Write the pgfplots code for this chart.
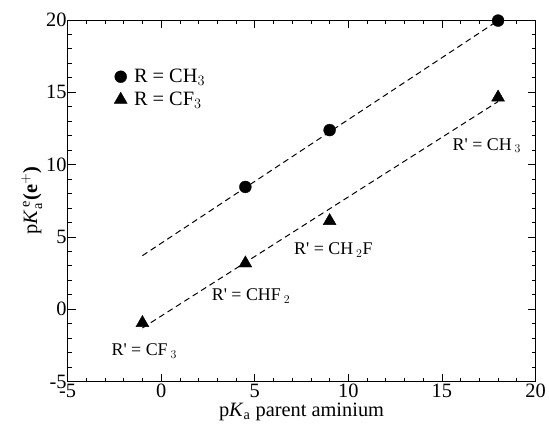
\documentclass[border=0pt]{standalone}
\usepackage{pgfplots}
\pgfplotsset{compat=1.18}
\usepackage{fontspec}
\setmainfont{Liberation Serif}
\newcommand{\ap}{\textquotesingle}
\begin{document}
\begin{tikzpicture}
\begin{axis}[
    scale only axis,
    width=471pt, height=364pt,
    xmin=-5, xmax=20, ymin=-5, ymax=20,
    xtick={-5,0,...,20}, ytick={-5,0,...,20},
    xticklabels={-5,0,5,10,15,20},
    yticklabels={-5,0,5,10,15,20},
    minor tick num=4,
    tick align=inside,
    major tick length=8pt, minor tick length=4pt,
    every tick/.style={black, line width=0.7pt},
    axis line style={line width=0.7pt},
    tick label style={font=\fontsize{20.5}{22}\selectfont},
    xticklabel style={yshift=1pt},
    yticklabel style={xshift=2.5pt},
    label style={font=\fontsize{20.5}{22}\selectfont},
    xlabel={p\textit{K}$_{\mathrm{a}}$ parent aminium},
    ylabel={p\textit{K}$_{\mathrm{a}}^{\,\mathrm{e}}$\textbf{(e}$^{\mathbf{+}}$\textbf{)}},
    xlabel style={yshift=2pt},
    ylabel style={yshift=-3pt},
    legend style={draw=none, fill=none, at={(0.093,0.875)}, anchor=north west,
        font=\fontsize{20.5}{22}\selectfont, row sep=4pt},
    legend cell align=left,
    legend image code/.code={\draw[#1] plot coordinates {(0.2cm,0cm)}; \path[draw=none] (0cm,0cm) -- (0.6cm,0cm);},
]
% fit lines
\addplot[black, dash pattern=on 6pt off 4pt, line width=1pt, forget plot] coordinates {(-1,3.7) (18,19.95)};
\addplot[black, dash pattern=on 6pt off 4pt, line width=1pt, forget plot] coordinates {(-1,-1.3) (18,14.35)};
% data
\addplot[only marks, mark=*, mark size=6pt, black] coordinates {
    (4.5,8.45) (9,12.38) (18,19.95)
};
\addlegendentry{R = CH$_3$}
\addplot[only marks, mark=triangle*, mark size=7.5pt, black] coordinates {
    (-1,-0.95) (4.5,3.17) (9,6.1) (18,14.64)
};
\addlegendentry{R = CF$_3$}
% labels
\node[font=\fontsize{18}{20}\selectfont] at (axis cs:17.4,11.3) {R\ap{} = CH\,$_3$};
\node[font=\fontsize{18}{20}\selectfont] at (axis cs:9.2,4.1) {R\ap{} = CH\,$_2$F};
\node[font=\fontsize{18}{20}\selectfont] at (axis cs:4.8,0.9) {R\ap{} = CHF\,$_2$};
\node[font=\fontsize{18}{20}\selectfont] at (axis cs:-0.9,-2.9) {R\ap{} = CF\,$_3$};
\end{axis}
\path ([xshift=-68pt,yshift=20pt]current axis.north west) rectangle ([yshift=-43pt]current axis.south east);
\end{tikzpicture}
\end{document}
